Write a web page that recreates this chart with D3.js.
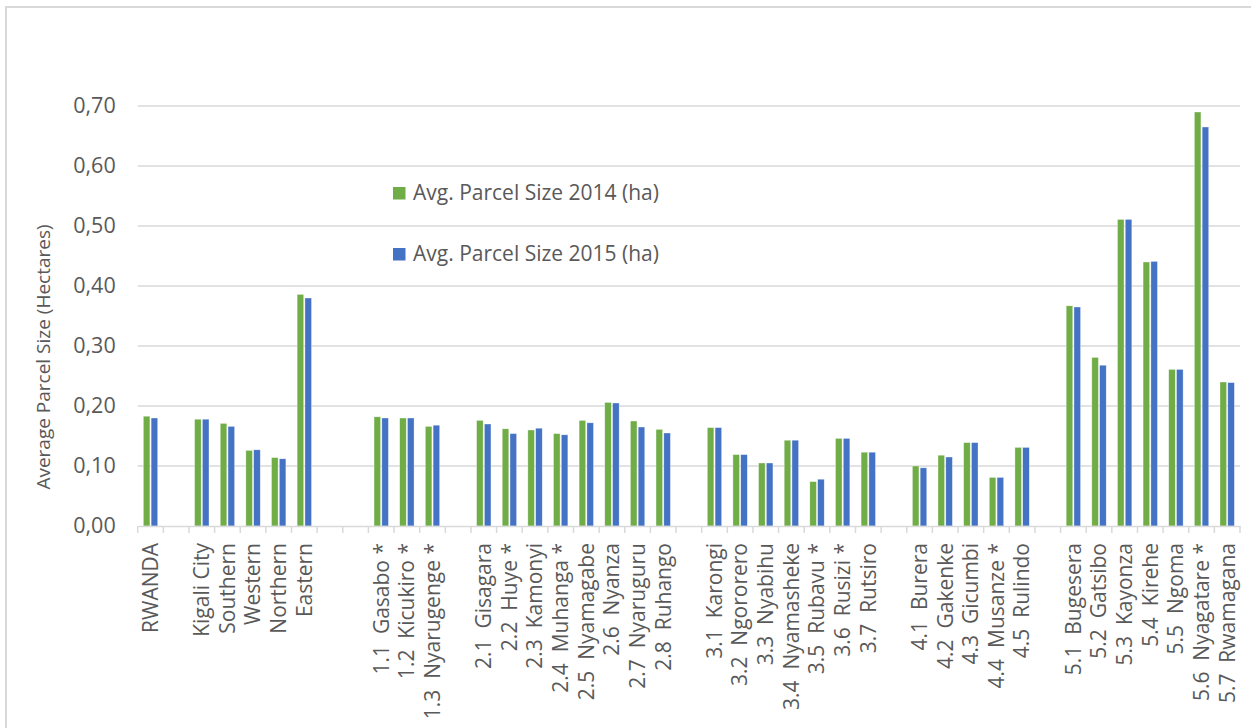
<!DOCTYPE html>
<html><head><meta charset="utf-8">
<script src="https://cdn.jsdelivr.net/npm/d3@7"></script>
<style>html,body{margin:0;padding:0;background:#fff;}svg{display:block;}</style>
</head><body>
<script>
const categories = ["RWANDA","","Kigali City","Southern","Western","Northern","Eastern","","",
 "1.1  Gasabo *","1.2  Kicukiro *","1.3  Nyarugenge *","",
 "2.1  Gisagara","2.2  Huye *","2.3  Kamonyi","2.4  Muhanga *","2.5  Nyamagabe","2.6  Nyanza","2.7  Nyaruguru","2.8  Ruhango","",
 "3.1  Karongi","3.2  Ngororero","3.3  Nyabihu","3.4  Nyamasheke","3.5  Rubavu *","3.6  Rusizi *","3.7  Rutsiro","",
 "4.1  Burera","4.2  Gakenke","4.3  Gicumbi","4.4  Musanze *","4.5  Rulindo","",
 "5.1  Bugesera","5.2  Gatsibo","5.3  Kayonza","5.4  Kirehe","5.5  Ngoma","5.6  Nyagatare *","5.7  Rwamagana"];
const size2014 = [0.183,null,0.178,0.171,0.126,0.114,0.386,null,null,
 0.182,0.180,0.166,null,
 0.176,0.162,0.160,0.154,0.176,0.206,0.175,0.161,null,
 0.164,0.119,0.105,0.143,0.074,0.146,0.123,null,
 0.100,0.118,0.139,0.081,0.131,null,
 0.367,0.281,0.511,0.440,0.261,0.690,0.240];
const size2015 = [0.180,null,0.178,0.166,0.127,0.112,0.380,null,null,
 0.180,0.180,0.168,null,
 0.170,0.154,0.163,0.152,0.172,0.205,0.165,0.155,null,
 0.164,0.119,0.105,0.143,0.078,0.146,0.123,null,
 0.097,0.115,0.139,0.081,0.131,null,
 0.365,0.268,0.511,0.441,0.261,0.665,0.239];
const seriesNames = ["Avg. Parcel Size 2014 (ha)","Avg. Parcel Size 2015 (ha)"];
const colors = ["#70AD47","#4472C4"];
const yTicks = [0,0.1,0.2,0.3,0.4,0.5,0.6,0.7];

const W=1251,H=728;
const svg=d3.select("body").append("svg").attr("width",W).attr("height",H);
const font="'Open Sans', sans-serif";
const txt="#595959";

svg.append("rect").attr("x",6).attr("y",7).attr("width",W+20).attr("height",H+20)
  .attr("fill","none").attr("stroke","#d9d9d9").attr("stroke-width",2);

const idx=categories.map((d,i)=>i);
const x=d3.scaleBand().domain(idx).range([137.7,1240]).paddingInner(0).paddingOuter(0);
const y=d3.scaleLinear().domain([0,0.7]).range([526,106]);

// gridlines
svg.append("g").selectAll("line").data(yTicks.slice(1)).join("line")
  .attr("x1",137.7).attr("x2",1240).attr("y1",d=>y(d)).attr("y2",d=>y(d))
  .attr("stroke","#d9d9d9").attr("stroke-width",1.3);

// y axis labels
const yAxis=d3.axisLeft(y).tickValues(yTicks).tickSize(0).tickPadding(22)
  .tickFormat(d=>d3.format(".2f")(d).replace(".",","));
const gy=svg.append("g").attr("transform","translate(137.7,0)").call(yAxis);
gy.select(".domain").remove();
gy.selectAll("text").attr("font-family",font).attr("font-size",21.5).attr("fill",txt);

// bars
const bw=6.6, gap=1.2;
const data=[size2014,size2015];
data.forEach((vals,s)=>{
  svg.append("g").selectAll("rect").data(idx.filter(i=>vals[i]!=null)).join("rect")
    .attr("x",i=>x(i)+x.bandwidth()/2 + (s===0? -bw-gap/2 : gap/2))
    .attr("width",bw)
    .attr("y",i=>y(vals[i])).attr("height",i=>y(0)-y(vals[i]))
    .attr("fill",colors[s]).attr("stroke","#fff").attr("stroke-width",0.6).attr("stroke-opacity",0.6);
});

// x axis
const xAxis=d3.axisBottom(x).tickSize(0).tickFormat(i=>categories[i]);
const gx=svg.append("g").attr("transform","translate(0,526)").call(xAxis);
gx.select(".domain").attr("stroke","#d9d9d9").attr("stroke-width",1.5);
gx.selectAll(".tick text").attr("font-family",font).attr("font-size",21).attr("fill",txt)
  .attr("transform","rotate(-90)").attr("text-anchor","end")
  .attr("x",-17).attr("y",0).attr("dy","0.35em").style("white-space","pre").attr("xml:space","preserve");
// tick marks at band boundaries
svg.append("g").selectAll("line").data(idx.concat([categories.length])).join("line")
  .attr("x1",i=>137.7+i*x.step()).attr("x2",i=>137.7+i*x.step())
  .attr("y1",526).attr("y2",533).attr("stroke","#d9d9d9").attr("stroke-width",1.5);

// y axis title
svg.append("text").attr("transform","translate(50,357) rotate(-90)").attr("text-anchor","middle")
  .attr("font-family",font).attr("font-size",19).attr("fill",txt).text("Average Parcel Size (Hectares)");

// legend
const leg=svg.append("g");
seriesNames.forEach((n,s)=>{
  const ly=193+s*61;
  leg.append("rect").attr("x",393).attr("y",ly-6).attr("width",12.5).attr("height",12.5).attr("fill",colors[s]);
  leg.append("text").attr("x",413).attr("y",ly).attr("dy","0.35em").attr("font-family",font)
    .attr("font-size",21).attr("fill",txt).text(n);
});
</script>
</body></html>
